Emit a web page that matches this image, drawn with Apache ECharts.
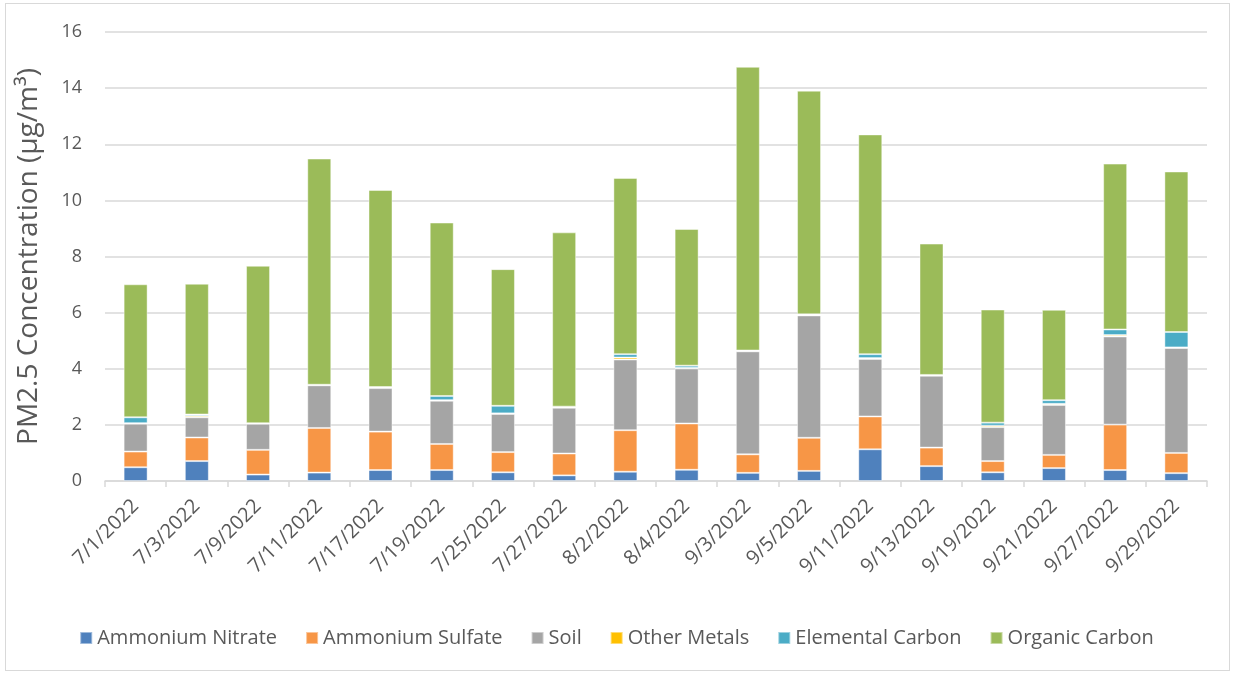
<!DOCTYPE html>
<html>
<head>
<meta charset="utf-8">
<script src="https://cdn.jsdelivr.net/npm/echarts@6/dist/echarts.min.js"></script>
<style>
html, body { margin: 0; padding: 0; background: #fff; }
#frame { position: absolute; left: 5px; top: 3px; width: 1225px; height: 668px; border: 1px solid #d9d9d9; box-sizing: border-box; }
#chart { position: absolute; left: 0; top: 0; width: 1233px; height: 675px; }
</style>
</head>
<body>
<div id="frame"></div>
<div id="chart"></div>
<script>
// sample dates
const dates = ['7/1/2022','7/3/2022','7/9/2022','7/11/2022','7/17/2022','7/19/2022','7/25/2022','7/27/2022','8/2/2022',
  '8/4/2022','9/3/2022','9/5/2022','9/11/2022','9/13/2022','9/19/2022','9/21/2022','9/27/2022','9/29/2022'];

// component concentrations (ug/m3)
const ammoniumNitrate = [0.49,0.71,0.23,0.30,0.39,0.39,0.31,0.20,0.33,0.40,0.29,0.36,1.13,0.53,0.31,0.46,0.39,0.28];
const ammoniumSulfate = [0.56,0.84,0.88,1.59,1.37,0.93,0.72,0.78,1.48,1.65,0.66,1.18,1.17,0.66,0.40,0.47,1.62,0.72];
const soil            = [0.99,0.72,0.93,1.52,1.55,1.54,1.36,1.63,2.52,1.96,3.67,4.36,2.05,2.56,1.21,1.78,3.14,3.74];
const otherMetals     = [0.02,0.05,0.01,0.01,0.03,0.02,0.02,0.03,0.07,0.02,0.02,0.03,0.03,0.02,0.05,0.04,0.05,0.02];
const elementalCarbon = [0.21,0.05,0.01,0.01,0.01,0.15,0.27,0.01,0.12,0.08,0.01,0.01,0.14,0.01,0.11,0.13,0.20,0.55];
const organicCarbon   = [4.74,4.66,5.61,8.06,7.02,6.18,4.87,6.21,6.28,4.87,10.11,7.97,7.83,4.68,4.03,3.22,5.91,5.72];

const seriesNames = ['Ammonium Nitrate','Ammonium Sulfate','Soil','Other Metals','Elemental Carbon','Organic Carbon'];
const seriesData = [ammoniumNitrate, ammoniumSulfate, soil, otherMetals, elementalCarbon, organicCarbon];
const colors = ['#4f81bd','#f79646','#a5a5a5','#ffc000','#4bacc6','#9bbb59'];

const font = '"Open Sans", Lato, sans-serif';
const chart = echarts.init(document.getElementById('chart'));

chart.setOption({
  animation: false,
  color: colors,
  textStyle: { fontFamily: font, color: '#595959' },
  grid: { left: 105, right: 26, top: 32, bottom: 194 },
  legend: {
    bottom: 22,
    left: 'center',
    itemWidth: 12,
    itemHeight: 12,
    itemGap: 28,
    icon: 'rect',
    textStyle: { fontSize: 20, color: '#595959', fontFamily: font },
    data: seriesNames
  },
  xAxis: {
    type: 'category',
    data: dates,
    axisLine: { lineStyle: { color: '#d9d9d9', width: 1.5 } },
    axisTick: { show: true, length: 6, lineStyle: { color: '#d9d9d9', width: 1.5 } },
    axisLabel: { rotate: 45, fontSize: 20, color: '#595959', margin: 22, interval: 0 }
  },
  yAxis: {
    type: 'value',
    min: 0,
    max: 16,
    interval: 2,
    name: 'PM2.5 Concentration (µg/m³)',
    nameLocation: 'middle',
    nameGap: 62,
    nameTextStyle: { fontSize: 28, color: '#595959' },
    axisLine: { show: false },
    axisTick: { show: false },
    axisLabel: { fontSize: 18, color: '#595959', margin: 23 },
    splitLine: { lineStyle: { color: '#d9d9d9', width: 1.5 } }
  },
  series: seriesNames.map((name, i) => ({
    name: name,
    type: 'bar',
    stack: 'total',
    barWidth: 24,
    data: seriesData[i],
    itemStyle: { borderColor: 'rgba(255,255,255,0.45)', borderWidth: 1 }
  }))
});
</script>
</body>
</html>
